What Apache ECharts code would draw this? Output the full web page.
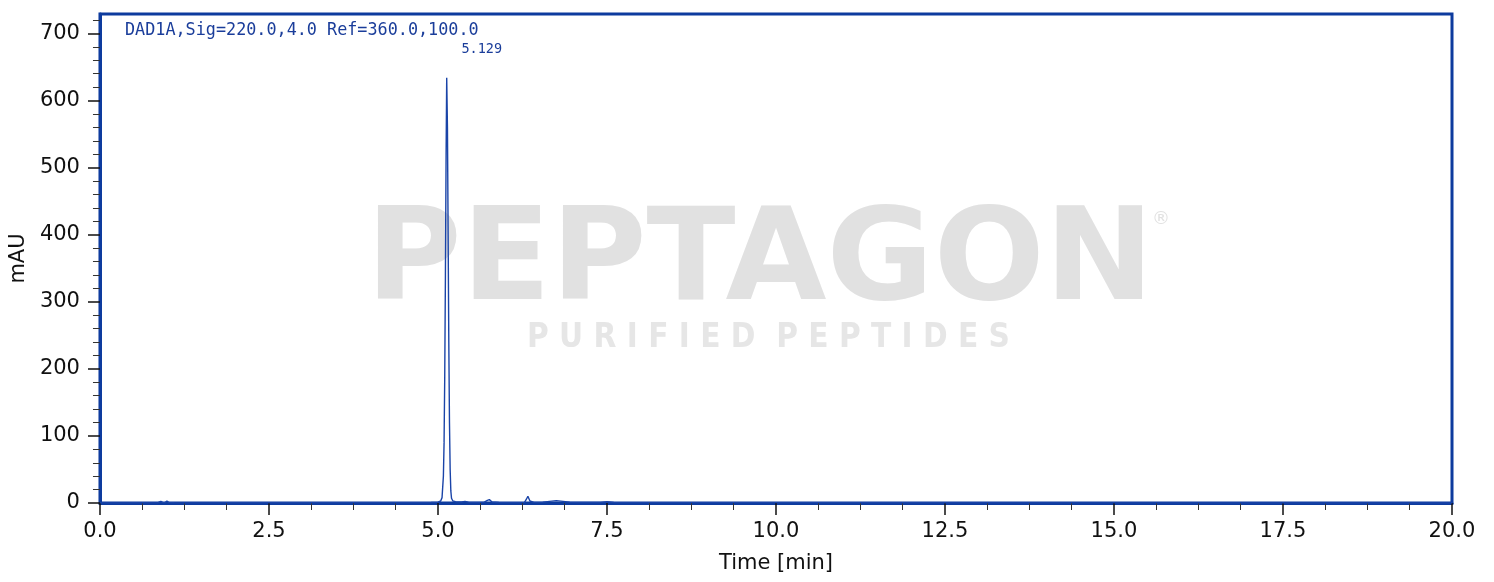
<!DOCTYPE html>
<html>
<head>
<meta charset="utf-8">
<script src="https://cdn.jsdelivr.net/npm/echarts@6/dist/echarts.min.js"></script>
<style>
html,body{margin:0;padding:0;background:#fff;}
#main{width:1494px;height:582px;}
</style>
</head>
<body>
<div id="main"></div>
<script>
// chromatogram points, time [min] and signal [mAU]
var time = [0, 0.3, 0.5, 0.85, 0.9, 0.93, 0.96, 0.99, 1.02, 1.1, 1.5, 2.0, 3.0, 4.0, 4.5, 4.9,
    5.0, 5.04, 5.06, 5.08, 5.09, 5.10, 5.11, 5.12, 5.129, 5.14, 5.15, 5.16, 5.17, 5.18, 5.19, 5.20,
    5.22, 5.26, 5.35, 5.40, 5.45, 5.55, 5.68, 5.73, 5.76, 5.80, 5.9, 6.2, 6.28, 6.31, 6.33, 6.36,
    6.42, 6.55, 6.65, 6.75, 6.85, 6.95, 7.1, 7.4, 7.5, 7.6, 8.0, 9.0, 10.0, 12.0, 15.0, 18.0, 20.0];
var mAU = [0.2, 0.1, 0.3, 0.2, 2.5, 0.5, 0.4, 3, 0.6, 0.3, 0.2, 0.3, 0.4, 0.6, 0.5, 0.8,
    1.2, 3, 8, 40, 90, 190, 340, 520, 634, 560, 400, 240, 120, 50, 18, 7,
    3, 2, 1.5, 2.5, 1.2, 1, 1, 4, 5, 1.5, 0.8, 0.6, 1, 6, 10, 3,
    1, 1.2, 2.5, 3.5, 2.5, 1.2, 0.8, 0.7, 1.8, 0.8, 0.6, 0.5, 0.5, 0.3, 0.2, 0.1, 0];
var yTicks = [0, 100, 200, 300, 400, 500, 600, 700];
var yMinorTicks = [20, 40, 60, 80, 120, 140, 160, 180, 220, 240, 260, 280, 320, 340, 360, 380,
    420, 440, 460, 480, 520, 540, 560, 580, 620, 640, 660, 680, 720];
var peakTime = 5.129;
var peakLabel = '5.129';
var signalName = 'DAD1A,Sig=220.0,4.0 Ref=360.0,100.0';

var blue = '#0d3b9e';
var data = [];
for (var i = 0; i < time.length; i++) {
    data.push([time[i], mAU[i]]);
}
var peakValue = mAU[time.indexOf(peakTime)];

var chart = echarts.init(document.getElementById('main'));
var option = {
    animation: false,
    backgroundColor: '#fff',
    title: {
        text: signalName,
        left: 125,
        top: 22,
        padding: 0,
        textStyle: {fontFamily: 'DejaVu Sans Mono', fontSize: 16.8, fontWeight: 'normal', color: '#1a3d9a'}
    },
    // watermark
    graphic: [
        {type: 'text', left: 366, top: 202, z: 0, silent: true, scaleX: 1.02,
            style: {text: 'PEPTAGON', fontFamily: 'DejaVu Sans', fontWeight: 'bold', fontSize: 128, fill: '#e1e1e1'}},
        {type: 'text', left: 1152, top: 210, z: 0, silent: true,
            style: {text: '®', fontFamily: 'DejaVu Sans', fontSize: 18, fill: '#e1e1e1'}},
        {type: 'text', left: 527, top: 322, z: 0, silent: true, scaleX: 0.9,
            style: {text: 'P U R I F I E D  P E P T I D E S', fontFamily: 'DejaVu Sans', fontWeight: 'bold', fontSize: 33, fill: '#e6e6e6'}}
    ],
    grid: {
        left: 97, right: 42, top: 14, bottom: 79,
        show: true, borderColor: blue, borderWidth: 3, backgroundColor: 'transparent'
    },
    xAxis: {
        type: 'value',
        min: 0, max: 20, interval: 2.5,
        name: 'Time [min]',
        nameLocation: 'middle',
        nameGap: 50,
        nameTextStyle: {fontFamily: 'DejaVu Sans', fontSize: 21, color: '#111'},
        axisLine: {show: true, onZero: false, lineStyle: {color: blue, width: 3}},
        axisTick: {show: true, length: 12, lineStyle: {color: '#111', width: 1.5}},
        minorTick: {show: true, splitNumber: 4, length: 7, lineStyle: {color: '#333', width: 1}},
        splitLine: {show: false},
        axisLabel: {
            margin: 18, fontFamily: 'DejaVu Sans', fontSize: 21, color: '#111',
            formatter: function (v) { return v.toFixed(1); }
        }
    },
    yAxis: [{
        type: 'value',
        min: 0, max: 729,
        name: 'mAU',
        nameLocation: 'middle',
        nameGap: 70,
        nameTextStyle: {fontFamily: 'DejaVu Sans', fontSize: 21, color: '#111'},
        axisLine: {show: true, lineStyle: {color: blue, width: 3}},
        axisTick: {show: true, length: 12, customValues: yTicks, lineStyle: {color: '#111', width: 1.5}},
        splitLine: {show: false},
        axisLabel: {margin: 20, customValues: yTicks, fontFamily: 'DejaVu Sans', fontSize: 21, color: '#111'}
    }, {
        type: 'value',
        min: 0, max: 729,
        position: 'left',
        axisLine: {show: false},
        axisTick: {show: true, length: 7, customValues: yMinorTicks, lineStyle: {color: '#333', width: 1}},
        splitLine: {show: false},
        axisLabel: {show: false}
    }],
    series: [{
        type: 'line',
        data: data,
        yAxisIndex: 0,
        showSymbol: false,
        z: 3,
        lineStyle: {color: '#1a44a8', width: 1.4},
        markPoint: {
            symbol: 'circle',
            symbolSize: 0,
            data: [{coord: [peakTime, peakValue]}],
            label: {
                show: true,
                formatter: peakLabel,
                offset: [35, -28],
                fontFamily: 'DejaVu Sans Mono',
                fontSize: 13.5,
                color: '#1a3d9a'
            }
        }
    }]
};
chart.setOption(option);
</script>
</body>
</html>
